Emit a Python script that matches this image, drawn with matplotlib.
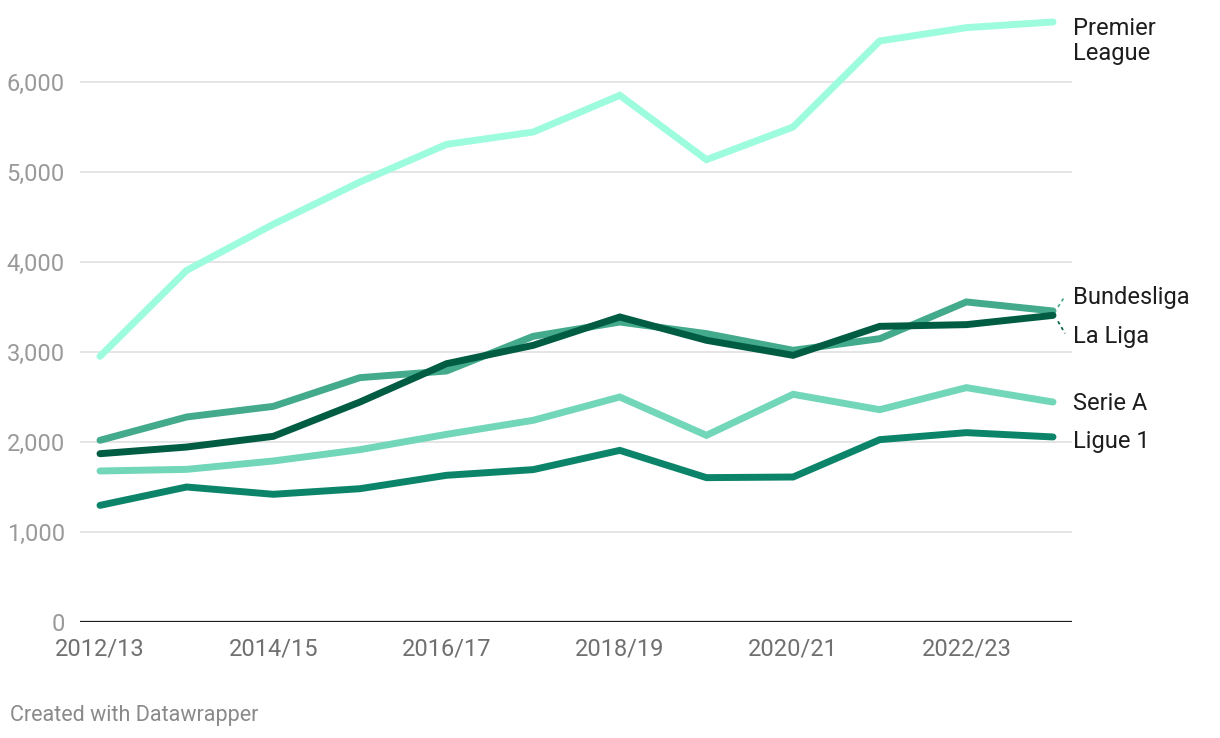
import matplotlib
matplotlib.use("Agg")
import matplotlib.pyplot as plt
import numpy as np

plt.rcParams['font.family'] = ['Roboto', 'DejaVu Sans']

seasons = ["2012/13", "2013/14", "2014/15", "2015/16", "2016/17", "2017/18",
           "2018/19", "2019/20", "2020/21", "2021/22", "2022/23", "2023/24"]

premier_league = [2952, 3907, 4419, 4889, 5307, 5444, 5852, 5137, 5500, 6456, 6604, 6667]
bundesliga     = [2019, 2278, 2396, 2715, 2789, 3174, 3333, 3204, 3019, 3148, 3556, 3456]
la_liga        = [1870, 1944, 2063, 2444, 2870, 3074, 3389, 3130, 2963, 3285, 3304, 3407]
serie_a        = [1678, 1696, 1789, 1915, 2085, 2241, 2500, 2074, 2530, 2359, 2604, 2444]
ligue_1        = [1296, 1500, 1419, 1481, 1630, 1693, 1907, 1604, 1611, 2026, 2104, 2056]

y_ticks = [0, 1000, 2000, 3000, 4000, 5000, 6000]
x_tick_labels = ["2012/13", "2014/15", "2016/17", "2018/19", "2020/21", "2022/23"]

series = [
    ("Premier\nLeague", premier_league, "#9dfcdd", 19),
    ("Serie A", serie_a, "#72d6b8", 1),
    ("Ligue 1", ligue_1, "#0b846a", 5),
    ("Bundesliga", bundesliga, "#43aa8b", -13),
    ("La Liga", la_liga, "#005c42", 21),
]

W, H = 1220, 738
fig = plt.figure(figsize=(W / 100, H / 100), dpi=100)
left, right, bottom = 80, 1072, 622
top = 1
ax = fig.add_axes([left / W, (H - bottom) / H, (right - left) / W, (bottom - top) / H])

x = np.arange(len(seasons))
step = (1053 - 100) / (len(seasons) - 1)
ax.set_xlim(-(100 - left) / step, len(seasons) - 1 + (right - 1053) / step)
ax.set_ylim(0, 6900)

for yt in y_ticks[1:]:
    ax.axhline(yt, color="#e3e3e3", lw=1.3, zorder=1)
ax.axhline(0, color="#1a1a1a", lw=1.6, zorder=5)

for name, vals, col, dy in series:
    ax.plot(x, vals, color=col, lw=5.0, solid_capstyle="round",
            solid_joinstyle="miter", zorder=3, clip_on=False)
    ax.annotate(name, xy=(x[-1], vals[-1]), xycoords="data",
                xytext=(20 * 0.72, -dy * 0.72), textcoords="offset points",
                ha="left", va="center", fontsize=17, color="#1d1d1d",
                linespacing=1.12, annotation_clip=False)

# dotted connectors for Bundesliga / La Liga labels
trans = ax.transData
inv = trans.inverted()
for vals, col, dy in [(bundesliga, "#43aa8b", -1), (la_liga, "#005c42", 1)]:
    px, py = trans.transform((x[-1], vals[-1]))
    if dy < 0:
        pts = [(px + 5, py + 4), (px + 12, py + 15)]
    else:
        pts = [(px + 5, py - 6), (px + 12, py - 18)]
    (x0, y0), (x1, y1) = inv.transform(pts[0]), inv.transform(pts[1])
    ax.plot([x0, x1], [y0, y1], color=col, lw=1.2, ls=(0, (2, 2)),
            clip_on=False, zorder=2)

ax.set_yticks(y_ticks)
ax.set_yticklabels([f"{v:,}" for v in y_ticks])
ax.set_xticks([seasons.index(s) for s in x_tick_labels])
ax.set_xticklabels(x_tick_labels)

ax.tick_params(axis="y", length=0, pad=11, labelsize=17, labelcolor="#9a9a9a")
ax.tick_params(axis="x", length=0, pad=11, labelsize=17, labelcolor="#707070")
for sp in ax.spines.values():
    sp.set_visible(False)
ax.set_facecolor("none")
ax.grid(False)

fig.text(10 / W, 1 - 715 / H, "Created with Datawrapper", ha="left", va="center",
         fontsize=15.5, color="#8a8a8a")

fig.savefig("out.png", dpi=100, facecolor="white")
